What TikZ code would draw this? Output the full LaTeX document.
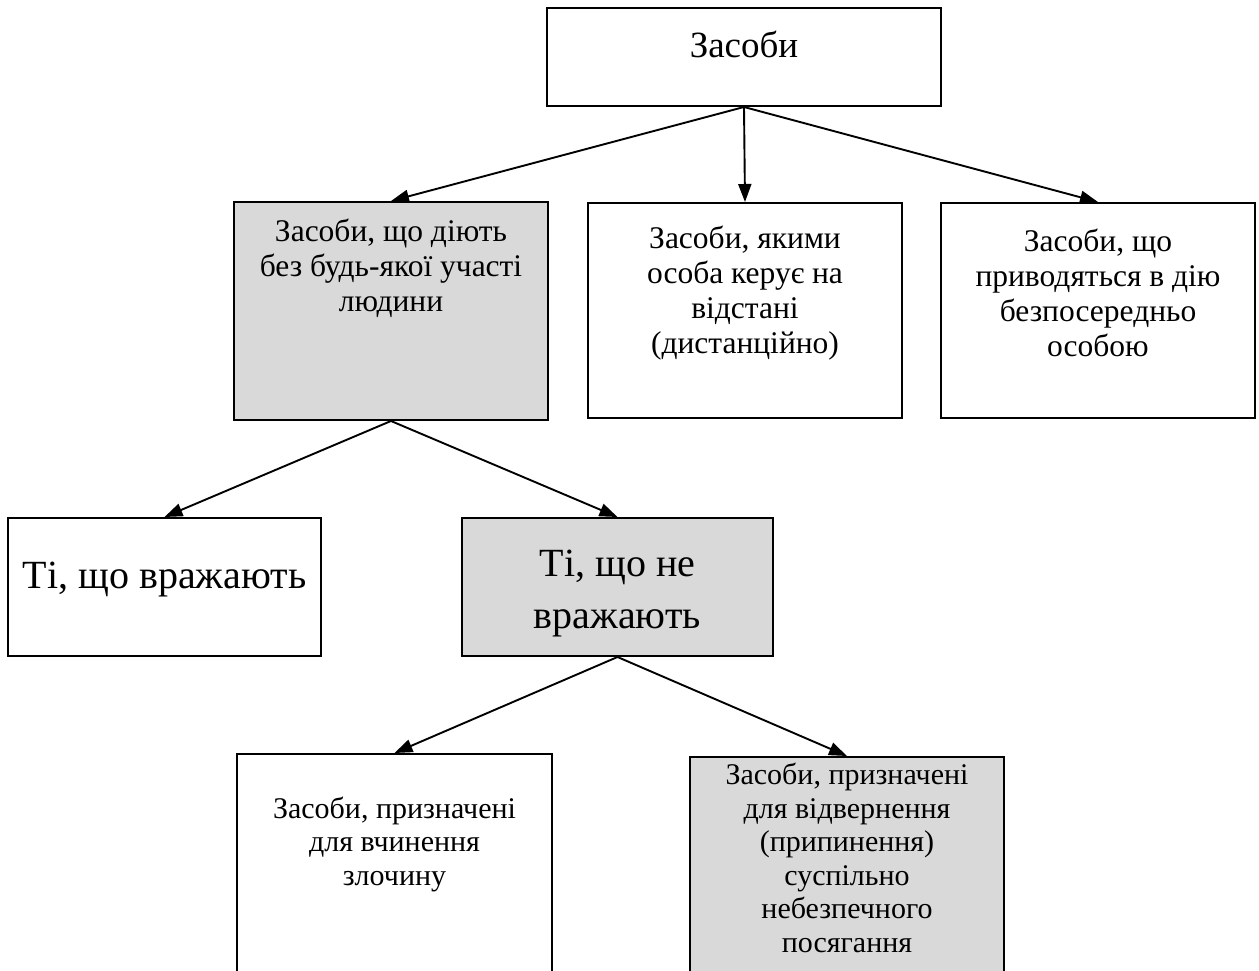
\documentclass[tikz,border=0pt]{standalone}
\usepackage{fontspec}
\setmainfont{Liberation Serif}
\usetikzlibrary{arrows.meta}
\definecolor{boxgray}{HTML}{D9D9D9}
\tikzset{
  catbox/.style={draw, line width=2pt, rectangle, minimum width=314pt, inner sep=0pt},
  greybox/.style={catbox, fill=boxgray},
  arr/.style={-{Triangle[length=18pt,width=13pt]}, line width=1.9pt},
  boxtext/.style={align=center, inner sep=0pt, font=\fontsize{31.5}{35}\selectfont},
  lowtext/.style={boxtext, font=\fontsize{30}{33.5}\selectfont},
  bigtext/.style={boxtext, font=\fontsize{40}{52}\selectfont},
}

\begin{document}
\begin{tikzpicture}[x=1pt, y=-1pt]
        \path[use as bounding box, fill=white] (0,0) rectangle (1259,971);

        % top level
        \node[catbox, minimum width=394pt, minimum height=98pt] (means) at (744,57) {};
        \node[boxtext, font=\fontsize{37}{42}\selectfont] (meanslbl) at (744,44) {Засоби};

        % second level
        \node[greybox, minimum height=218pt] (auto) at (391,311) {};
        \node[boxtext] (autolbl) at (391,268) {Засоби, що діють\\без будь-якої участі\\людини};
        \node[catbox, minimum height=215pt] (remote) at (745,310.5) {};
        \node[boxtext] (remotelbl) at (745,293) {Засоби, якими\\особа керує на\\відстані\\(дистанційно)};
        \node[catbox, minimum height=215pt] (direct) at (1098,310.5) {};
        \node[boxtext] (directlbl) at (1098,293) {Засоби, що\\приводяться в дію\\безпосередньо\\особою};

        % third level
        \node[catbox, minimum width=313pt, minimum height=138pt] (harm) at (164.5,587) {};
        \node[bigtext] (harmlbl) at (164.5,580) {Ті, що вражають};
        \node[greybox, minimum width=311pt, minimum height=138pt] (noharm) at (617.5,587) {};
        \node[bigtext] (noharmlbl) at (617.5,594) {Ті, що не\\вражають};

        % fourth level
        \node[catbox, minimum width=315pt, minimum height=236pt] (crime) at (394.5,872) {};
        \node[lowtext] (crimelbl) at (394.5,844) {Засоби, призначені\\для вчинення\\злочину};
        \node[greybox, minimum height=233pt] (defence) at (847,873.5) {};
        \node[lowtext] (defencelbl) at (847,858) {Засоби, призначені\\для відвернення\\(припинення)\\суспільно\\небезпечного\\посягання};

        \draw[arr] (means.south) -- (auto.north);
        \draw[arr] (means.south) -- (remote.north);
        \draw[arr] (means.south) -- (direct.north);
        \draw[arr] (auto.south) -- (harm.north);
        \draw[arr] (auto.south) -- (noharm.north);
        \draw[arr] (noharm.south) -- (crime.north);
        \draw[arr] (noharm.south) -- (defence.north);
\end{tikzpicture}
\end{document}
